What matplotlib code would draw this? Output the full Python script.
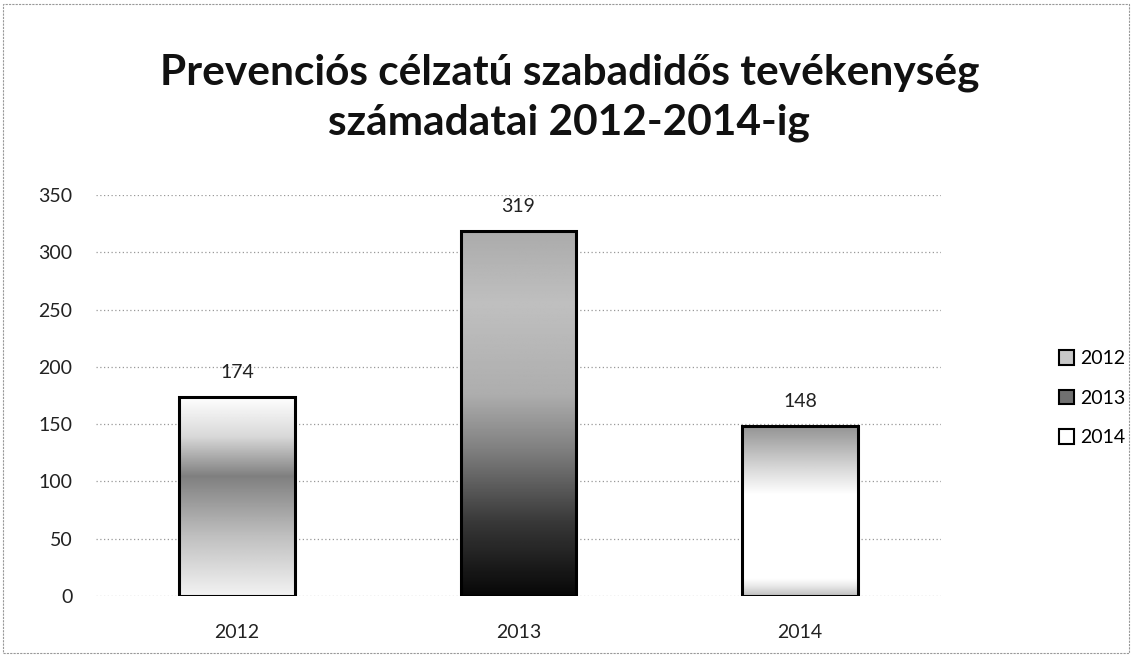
import numpy as np
import matplotlib
matplotlib.use('Agg')
import matplotlib.pyplot as plt
from matplotlib.patches import Rectangle, Patch

# ============================================================
# DATA
# ============================================================

TITLE      = 'Prevenciós célzatú szabadidős tevékenység\nszámadatai 2012-2014-ig'
CATEGORIES = ['2012', '2013', '2014']
VALUES     = [174, 319, 148]
Y_TICKS    = [0, 50, 100, 150, 200, 250, 300, 350]

# gradient stops per bar: (fraction from bottom, grey level 0=white..1=black)
GRADIENTS = [
    [(0.0, 0.05), (0.3, 0.25), (0.6, 0.5), (0.8, 0.15), (1.0, 0.0)],
    [(0.0, 0.97), (0.2, 0.78), (0.4, 0.5), (0.55, 0.32), (0.8, 0.25), (1.0, 0.33)],
    [(0.0, 0.25), (0.06, 0.08), (0.1, 0.0), (0.6, 0.0), (0.75, 0.15), (1.0, 0.42)],
]
LEGEND_FACES = ['#c8c8c8', '#707070', '#ffffff']

FONT = ['Lato', 'DejaVu Sans']
plt.rcParams['font.family'] = FONT

# ============================================================
# PLOT
# ============================================================

fig = plt.figure(figsize=(11.32, 6.56), dpi=100)
ax = fig.add_axes([0.085, 0.0915, 0.746, 0.611])

x = np.arange(len(CATEGORIES))
bar_w = 0.41

for i, (val, stops) in enumerate(zip(VALUES, GRADIENTS)):
    fr = np.linspace(0, 1, 256)
    levels = np.interp(fr, [s[0] for s in stops], [s[1] for s in stops])
    img = levels[::-1].reshape(-1, 1)
    im = ax.imshow(img, cmap='gray_r', vmin=0, vmax=1, aspect='auto',
                   extent=(x[i] - bar_w / 2, x[i] + bar_w / 2, 0, val),
                   interpolation='bilinear', zorder=2)
    rect = Rectangle((x[i] - bar_w / 2, 0), bar_w, val, facecolor='none',
                     edgecolor='black', linewidth=2.2, zorder=3)
    ax.add_patch(rect)
    im.set_clip_path(rect)
    ax.text(x[i], val + 14, str(val), ha='center', va='bottom',
            fontsize=14, color='#222222')

ax.set_xlim(-0.5, len(CATEGORIES) - 0.5)
ax.set_ylim(0, 350)
ax.set_xticks(x)
ax.set_xticklabels(CATEGORIES, fontsize=14)
ax.set_yticks(Y_TICKS)
ax.set_yticklabels([str(t) for t in Y_TICKS], fontsize=14)
ax.tick_params(axis='both', length=0, colors='#222222')
ax.tick_params(axis='y', pad=17)
ax.tick_params(axis='x', pad=20)
ax.grid(axis='y', linestyle=(0, (1, 2)), color='#999999', linewidth=0.9, zorder=0)
ax.set_axisbelow(True)
for s in ax.spines.values():
    s.set_visible(False)

fig.text(0.503, 0.851, TITLE, ha='center', va='center', fontsize=30.5,
         fontweight='bold', color='#111111', linespacing=1.35)

handles = [Patch(facecolor=c, edgecolor='black', linewidth=1.5) for c in LEGEND_FACES]
fig.legend(handles, CATEGORIES, loc='center left', bbox_to_anchor=(0.92, 0.393),
           frameon=False, fontsize=14, handlelength=0.8, handleheight=0.8,
           handletextpad=0.3, labelspacing=1.15)

# scanned page border
fig.patches.append(Rectangle((0.003, 0.004), 0.994, 0.99, transform=fig.transFigure,
                             fill=False, edgecolor='#999999', linewidth=0.8,
                             linestyle=(0, (2, 1))))

fig.savefig('out.png', dpi=100)
